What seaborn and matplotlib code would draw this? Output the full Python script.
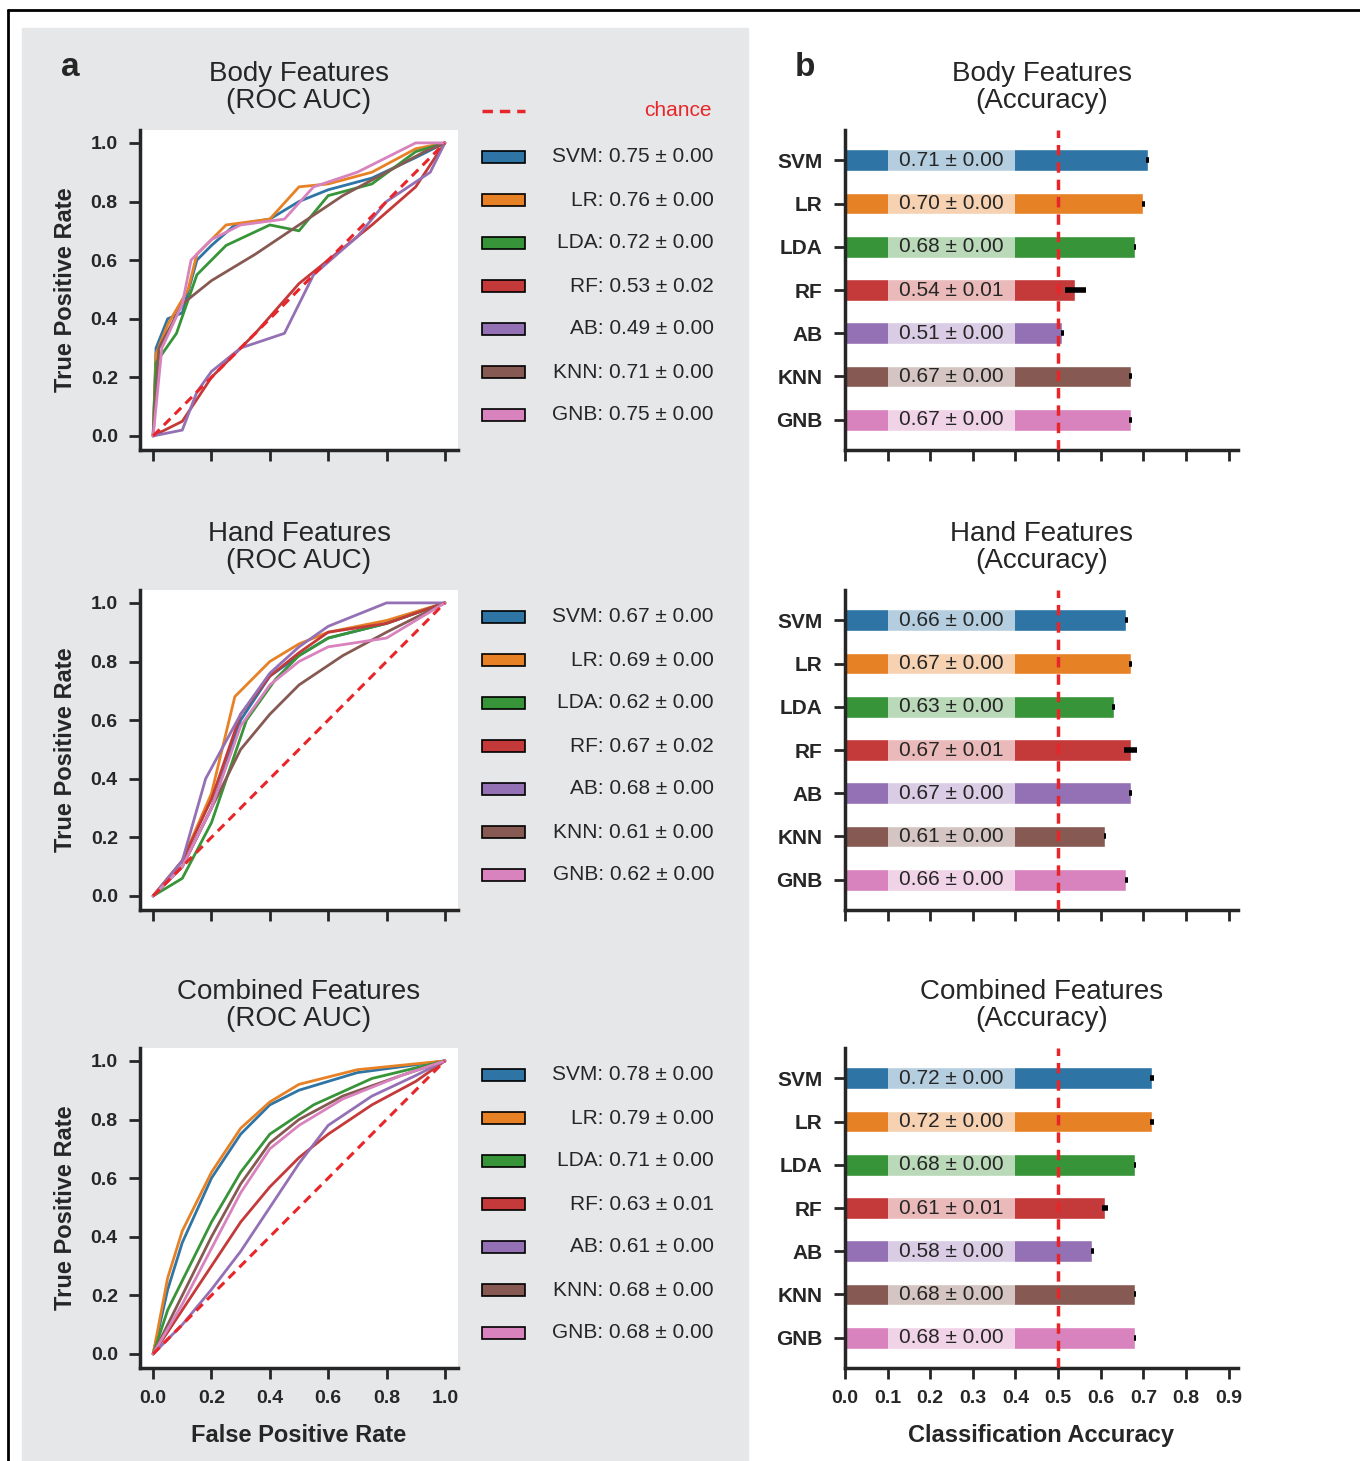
import matplotlib
matplotlib.use("Agg")
import matplotlib.pyplot as plt
import seaborn as sns
import numpy as np
import pandas as pd
from matplotlib.patches import Rectangle
from matplotlib.lines import Line2D

sns.set_theme(style="ticks")
plt.rcParams['font.family'] = ['Liberation Sans', 'DejaVu Sans']

models = ["SVM", "LR", "LDA", "RF", "AB", "KNN", "GNB"]
colors = [sns.desaturate(c, 0.8) for c in sns.color_palette("tab10")[:7]]
titles = ["Body Features", "Hand Features", "Combined Features"]

auc_mean = [[0.75, 0.76, 0.72, 0.53, 0.49, 0.71, 0.75],
            [0.67, 0.69, 0.62, 0.67, 0.68, 0.61, 0.62],
            [0.78, 0.79, 0.71, 0.63, 0.61, 0.68, 0.68]]
auc_std = [[0.00, 0.00, 0.00, 0.02, 0.00, 0.00, 0.00],
           [0.00, 0.00, 0.00, 0.02, 0.00, 0.00, 0.00],
           [0.00, 0.00, 0.00, 0.01, 0.00, 0.00, 0.00]]
acc_mean = [[0.71, 0.70, 0.68, 0.54, 0.51, 0.67, 0.67],
            [0.66, 0.67, 0.63, 0.67, 0.67, 0.61, 0.66],
            [0.72, 0.72, 0.68, 0.61, 0.58, 0.68, 0.68]]
acc_std = [[0.00, 0.00, 0.00, 0.01, 0.00, 0.00, 0.00],
           [0.00, 0.00, 0.00, 0.01, 0.00, 0.00, 0.00],
           [0.00, 0.00, 0.00, 0.01, 0.00, 0.00, 0.00]]
acc_err = [[0.004, 0.004, 0.003, 0.025, 0.003, 0.003, 0.003],
           [0.003, 0.003, 0.003, 0.015, 0.003, 0.003, 0.003],
           [0.004, 0.004, 0.003, 0.008, 0.003, 0.003, 0.003]]

body_fpr = [[0, 0.01, 0.05, 0.1, 0.15, 0.2, 0.28, 0.4, 0.5, 0.6, 0.75, 0.9, 1],
            [0, 0.01, 0.05, 0.12, 0.15, 0.25, 0.4, 0.5, 0.6, 0.75, 0.9, 1],
            [0, 0.01, 0.08, 0.15, 0.25, 0.4, 0.5, 0.6, 0.75, 0.9, 1],
            [0, 0.1, 0.2, 0.35, 0.5, 0.6, 0.75, 0.9, 1],
            [0, 0.1, 0.15, 0.2, 0.3, 0.45, 0.55, 0.7, 0.8, 0.95, 1],
            [0, 0.02, 0.1, 0.2, 0.35, 0.5, 0.65, 0.8, 0.93, 1],
            [0, 0.03, 0.1, 0.13, 0.2, 0.3, 0.45, 0.55, 0.7, 0.9, 1]]
body_tpr = [[0, 0.3, 0.4, 0.42, 0.6, 0.65, 0.72, 0.74, 0.8, 0.84, 0.88, 0.95, 1],
            [0, 0.28, 0.38, 0.5, 0.62, 0.72, 0.74, 0.85, 0.86, 0.9, 0.98, 1],
            [0, 0.25, 0.35, 0.55, 0.65, 0.72, 0.7, 0.82, 0.86, 0.97, 1],
            [0, 0.05, 0.2, 0.35, 0.52, 0.6, 0.72, 0.85, 1],
            [0, 0.02, 0.15, 0.22, 0.3, 0.35, 0.55, 0.68, 0.8, 0.9, 1],
            [0, 0.3, 0.45, 0.53, 0.62, 0.72, 0.82, 0.9, 0.97, 1],
            [0, 0.3, 0.45, 0.6, 0.67, 0.72, 0.74, 0.85, 0.9, 1, 1]]
hand_fpr = [[0, 0.1, 0.2, 0.3, 0.4, 0.5, 0.6, 0.8, 1],
            [0, 0.1, 0.2, 0.28, 0.4, 0.5, 0.6, 0.8, 1],
            [0, 0.1, 0.2, 0.32, 0.42, 0.5, 0.6, 0.8, 1],
            [0, 0.1, 0.2, 0.3, 0.4, 0.5, 0.6, 0.8, 1],
            [0, 0.1, 0.18, 0.3, 0.4, 0.5, 0.6, 0.8, 1],
            [0, 0.1, 0.2, 0.3, 0.4, 0.5, 0.65, 0.8, 1],
            [0, 0.1, 0.2, 0.3, 0.4, 0.5, 0.6, 0.8, 1]]
hand_tpr = [[0, 0.1, 0.3, 0.6, 0.75, 0.82, 0.88, 0.93, 1],
            [0, 0.12, 0.35, 0.68, 0.8, 0.86, 0.9, 0.94, 1],
            [0, 0.06, 0.25, 0.6, 0.74, 0.82, 0.88, 0.93, 1],
            [0, 0.12, 0.33, 0.62, 0.75, 0.83, 0.9, 0.93, 1],
            [0, 0.12, 0.4, 0.62, 0.76, 0.85, 0.92, 1, 1],
            [0, 0.1, 0.3, 0.5, 0.62, 0.72, 0.82, 0.9, 1],
            [0, 0.1, 0.3, 0.58, 0.72, 0.8, 0.85, 0.88, 1]]
comb_fpr = [[0, 0.05, 0.1, 0.2, 0.3, 0.4, 0.5, 0.7, 1],
            [0, 0.05, 0.1, 0.2, 0.3, 0.4, 0.5, 0.7, 1],
            [0, 0.05, 0.1, 0.2, 0.3, 0.4, 0.55, 0.75, 1],
            [0, 0.1, 0.2, 0.3, 0.4, 0.5, 0.6, 0.75, 0.9, 1],
            [0, 0.1, 0.2, 0.3, 0.4, 0.5, 0.6, 0.75, 0.9, 1],
            [0, 0.1, 0.2, 0.3, 0.4, 0.5, 0.65, 0.85, 1],
            [0, 0.1, 0.2, 0.3, 0.4, 0.5, 0.65, 0.85, 1]]
comb_tpr = [[0, 0.22, 0.38, 0.6, 0.75, 0.85, 0.9, 0.96, 1],
            [0, 0.26, 0.42, 0.62, 0.77, 0.86, 0.92, 0.97, 1],
            [0, 0.15, 0.25, 0.45, 0.62, 0.75, 0.85, 0.94, 1],
            [0, 0.15, 0.3, 0.45, 0.57, 0.67, 0.75, 0.85, 0.93, 1],
            [0, 0.1, 0.22, 0.35, 0.5, 0.65, 0.78, 0.88, 0.95, 1],
            [0, 0.2, 0.4, 0.58, 0.72, 0.8, 0.88, 0.95, 1],
            [0, 0.17, 0.36, 0.55, 0.7, 0.78, 0.87, 0.95, 1]]
fprs = [body_fpr, hand_fpr, comb_fpr]
tprs = [body_tpr, hand_tpr, comb_tpr]

W, H = 1360, 1461
fig = plt.figure(figsize=(13.6, 14.61), dpi=100)

def fx(px): return px / W
def fy(py): return 1 - py / H

fig.patches.append(Rectangle((fx(22), fy(1461)), fx(748) - fx(22), fy(28) - fy(1461),
                             transform=fig.transFigure, color="#e6e7e9", zorder=-10))
fig.add_artist(Line2D([fx(8), 1], [fy(10), fy(10)], color="black", lw=2, transform=fig.transFigure))
fig.add_artist(Line2D([fx(8), fx(8)], [0, fy(10)], color="black", lw=2, transform=fig.transFigure))

fig.text(fx(70), fy(68), "a", fontsize=24, fontweight="bold", ha="center", va="center")
fig.text(fx(805), fy(68), "b", fontsize=24, fontweight="bold", ha="center", va="center")

red = "#e8262a"
rows_top = [130, 590, 1048]
for r, top in enumerate(rows_top):
    bot = top + 320
    ax = fig.add_axes([fx(140), fy(bot), fx(458) - fx(140), fy(top) - fy(bot)])
    ax.set_facecolor("white")
    for i, m in enumerate(models):
        sns.lineplot(x=fprs[r][i], y=tprs[r][i], color=colors[i], lw=2, ax=ax,
                     estimator=None, sort=False)
    ax.plot([0, 1], [0, 1], color=red, lw=2.2, ls=(0, (3, 2)))
    ax.set_xlim(-0.045, 1.045)
    ax.set_ylim(-0.048, 1.044)
    ticks = np.arange(0, 1.01, 0.2)
    ax.set_xticks(ticks)
    ax.set_yticks(ticks)
    ax.set_yticklabels([f"{v:.1f}" for v in ticks], fontsize=14, fontweight="bold")
    if r == 2:
        ax.set_xticklabels([f"{v:.1f}" for v in ticks], fontsize=14, fontweight="bold")
        ax.set_xlabel("False Positive Rate", fontsize=17, fontweight="bold", labelpad=12)
    else:
        ax.set_xticklabels([])
    ax.set_ylabel("True Positive Rate", fontsize=17, fontweight="bold", labelpad=10)
    for s in ["top", "right"]:
        ax.spines[s].set_visible(False)
    for s in ["left", "bottom"]:
        ax.spines[s].set_linewidth(2.5)
    ax.tick_params(width=2, length=8, pad=8)
    ax.set_title(f"{titles[r]}\n(ROC AUC)", fontsize=20, linespacing=1.05, pad=16)

    if r == 0:
        fig.add_artist(Line2D([fx(482), fx(525)], [fy(111), fy(111)], color=red, lw=2.5,
                              ls=(0, (3, 2)), transform=fig.transFigure))
        fig.text(fx(712), fy(110), "chance", color=red, fontsize=15, ha="right", va="center")
    for i, m in enumerate(models):
        yy = top + 27 + i * 43
        fig.patches.append(Rectangle((fx(482), fy(yy + 6)), fx(43), 12 / H, transform=fig.transFigure,
                                     facecolor=colors[i], edgecolor="black", lw=1.2))
        fig.text(fx(714), fy(yy), f"{m}: {auc_mean[r][i]:.2f} ± {auc_std[r][i]:.2f}",
                 fontsize=15, ha="right", va="center")

    bx = fig.add_axes([fx(845), fy(bot), fx(1238) - fx(845), fy(top) - fy(bot)])
    df = pd.DataFrame({"model": models, "acc": acc_mean[r]})
    sns.barplot(data=df, y="model", x="acc", hue="model", palette=colors, legend=False,
                orient="h", width=0.5, ax=bx, saturation=1)
    for i in range(7):
        bx.add_patch(Rectangle((0.1, i - 0.25), 0.3, 0.5, facecolor="white", alpha=0.65, lw=0, zorder=3))
        bx.text(0.25, i, f"{acc_mean[r][i]:.2f} ± {acc_std[r][i]:.2f}", ha="center", va="center",
                fontsize=15, zorder=4)
    bx.errorbar(acc_mean[r], range(7), xerr=acc_err[r], fmt="none", ecolor="black", elinewidth=4, zorder=5)
    bx.axvline(0.5, color=red, ls=(0, (3, 2)), lw=2.5, zorder=6)
    bx.set_xlim(0, 0.922)
    bx.set_ylim(6.7, -0.7)
    xt = np.arange(0, 0.91, 0.1)
    bx.set_xticks(xt)
    if r == 2:
        bx.set_xticklabels([f"{v:.1f}" for v in xt], fontsize=14, fontweight="bold")
        bx.set_xlabel("Classification Accuracy", fontsize=17, fontweight="bold", labelpad=12)
    else:
        bx.set_xticklabels([])
        bx.set_xlabel("")
    bx.set_ylabel("")
    bx.set_yticks(range(7))
    bx.set_yticklabels(models, fontsize=15, fontweight="bold")
    for s in ["top", "right"]:
        bx.spines[s].set_visible(False)
    for s in ["left", "bottom"]:
        bx.spines[s].set_linewidth(2.5)
    bx.tick_params(width=2, length=8, pad=8)
    bx.set_title(f"{titles[r]}\n(Accuracy)", fontsize=20, linespacing=1.05, pad=16)

fig.savefig("out.png", dpi=100)
